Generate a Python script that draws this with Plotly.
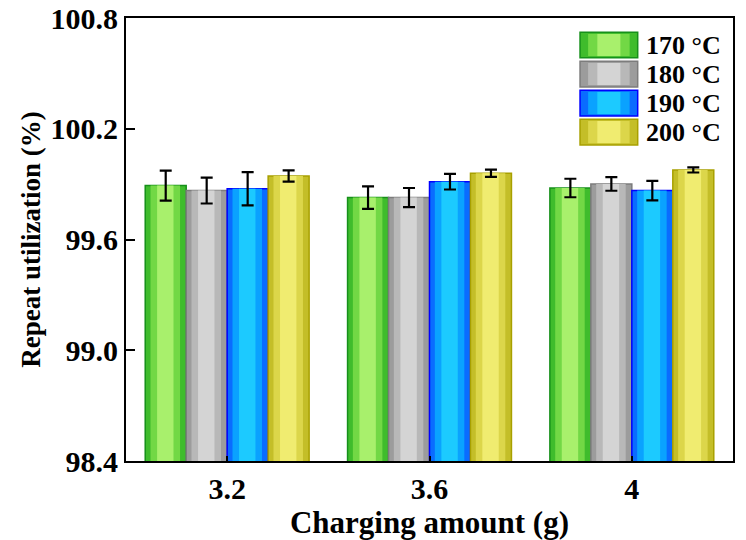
import plotly.graph_objects as go

categories = ["3.2", "3.6", "4"]
series_names = ["170 °C", "180 °C", "190 °C", "200 °C"]
values_170 = [99.892, 99.827, 99.879]
values_180 = [99.865, 99.827, 99.901]
values_190 = [99.875, 99.913, 99.865]
values_200 = [99.944, 99.959, 99.977]
err_170 = [0.081, 0.061, 0.050]
err_180 = [0.070, 0.052, 0.037]
err_190 = [0.090, 0.042, 0.053]
err_200 = [0.030, 0.020, 0.014]

values = [values_170, values_180, values_190, values_200]
errors = [err_170, err_180, err_190, err_200]

# (edge, mid, inner, highlight) colours per series to mimic the gradient fill
palettes = [
    ("#16901a", "#3fbc2c", "#72d845", "#a8f06c"),
    ("#7c7c7c", "#9c9c9c", "#b8b8b8", "#d4d4d4"),
    ("#0000ff", "#0a6cff", "#0aa2ff", "#1ccaff"),
    ("#a8a000", "#c4be28", "#dcd64a", "#f0ec70"),
]

FONT = "Liberation Serif"
group_width = 0.81
bar_w = group_width / 4
start = -group_width / 2

fig = go.Figure()
for i, (name, vals, errs, pal) in enumerate(zip(series_names, values, errors, palettes)):
    off = start + i * bar_w
    edge, mid, inner, hi = pal
    fig.add_trace(go.Bar(
        x=categories, y=vals, name=name, legendgroup=name,
        width=bar_w, offset=off,
        marker=dict(color=mid, line=dict(color=edge, width=1.5)),
        showlegend=False,
    ))
    for frac, col in ((0.72, inner), (0.40, hi)):
        w = bar_w * frac
        fig.add_trace(go.Bar(
            x=categories, y=vals, name=name, legendgroup=name,
            width=w, offset=off + (bar_w - w) / 2 - 0.01 * bar_w,
            marker=dict(color=col, line=dict(width=0)),
            showlegend=False, hoverinfo="skip",
        ))
    fig.add_trace(go.Bar(
        x=categories, y=vals, name=name, legendgroup=name,
        width=bar_w, offset=off,
        marker=dict(color="rgba(0,0,0,0)", line=dict(width=0)),
        error_y=dict(type="data", array=errs, visible=True,
                     color="black", thickness=2.2, width=6),
        showlegend=False, hoverinfo="skip",
    ))

# legend drawn as gradient swatches + labels (paper coordinates)
leg_x0, leg_x1 = 0.748, 0.843
leg_text_x = 0.853
leg_top = 0.968
leg_step = 0.0655
sw_h = 0.058
shapes = []
annotations = []
for i, (name, pal) in enumerate(zip(series_names, palettes)):
    y1 = leg_top - i * leg_step
    y0 = y1 - sw_h
    edge, mid, inner, hi = pal
    full = leg_x1 - leg_x0
    shapes.append(dict(type="rect", xref="paper", yref="paper", x0=leg_x0, x1=leg_x1,
                       y0=y0, y1=y1, fillcolor=mid, line=dict(color=edge, width=1.5), layer="above"))
    for frac, col in ((0.72, inner), (0.40, hi)):
        w = full * frac
        cx0 = leg_x0 + (full - w) / 2
        shapes.append(dict(type="rect", xref="paper", yref="paper", x0=cx0, x1=cx0 + w,
                           y0=y0 + 0.004, y1=y1 - 0.004, fillcolor=col, line=dict(width=0), layer="above"))
    annotations.append(dict(xref="paper", yref="paper", x=leg_text_x, y=(y0 + y1) / 2,
                            xanchor="left", yanchor="middle", showarrow=False,
                            text="<b>" + name + "</b>",
                            font=dict(family=FONT, size=26, color="black")))

fig.update_layout(
    barmode="overlay",
    width=746, height=540,
    margin=dict(l=126, r=13, t=18, b=79),
    paper_bgcolor="white", plot_bgcolor="white",
    font=dict(family=FONT, size=24, color="black"),
    showlegend=False,
    shapes=shapes,
    annotations=annotations,
)
fig.update_xaxes(
    type="category", range=[-0.5, 2.5], automargin=False,
    showline=True, linecolor="black", linewidth=2, mirror=True,
    ticks="inside", ticklen=5, tickwidth=1.5, tickcolor="black",
    tickfont=dict(family=FONT, size=30, weight="bold"),
    title=dict(text="<b>Charging amount (g)</b>", font=dict(family=FONT, size=31), standoff=0),
    showgrid=False,
)
fig.update_yaxes(
    range=[98.4, 100.8], tickvals=[98.4, 99.0, 99.6, 100.2, 100.8],
    ticktext=["98.4", "99.0", "99.6", "100.2", "100.8"], automargin=False,
    ticklabeloverflow="allow",
    showline=True, linecolor="black", linewidth=2, mirror=True,
    ticks="inside", ticklen=9, tickwidth=1.5, tickcolor="black",
    tickfont=dict(family=FONT, size=30, weight="bold"),
    title=dict(text="<b>Repeat utilization (%)</b>", font=dict(family=FONT, size=27), standoff=2),
    showgrid=False, zeroline=False,
)

# remove the default 8px page margin so the figure fills the window exactly
fig.write_html("out.html", config={"displayModeBar": False},
               post_script="document.body.style.margin='0';")
